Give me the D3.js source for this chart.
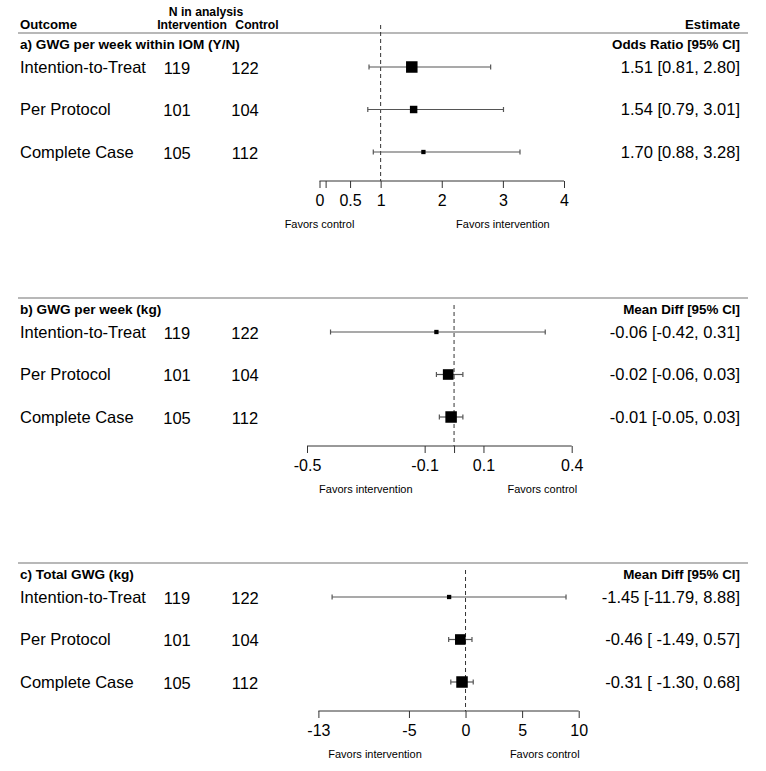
<!DOCTYPE html>
<html><head><meta charset="utf-8">
<script src="https://cdn.jsdelivr.net/npm/d3@7"></script>
<style>
body{margin:0;background:#fff;}
svg{font-family:"Liberation Sans",Arial,Helvetica,sans-serif;}
text{white-space:pre;}
</style></head>
<body><svg id="c" width="766" height="771"></svg>
<script>
// ---- data ----
const outcomes = ["Intention-to-Treat", "Per Protocol", "Complete Case"];
const nIntervention = [119, 101, 105];
const nControl = [122, 104, 112];

const titleA = "a) GWG per week within IOM (Y/N)";
const measureA = "Odds Ratio [95% CI]";
const estA = [1.51, 1.54, 1.70];
const lowA = [0.81, 0.79, 0.88];
const highA = [2.80, 3.01, 3.28];
const weightA = [1.0, 0.55, 0.2];
const ticksA = [0, 0.1, 0.5, 1, 2, 3, 4];
const tickLabelsA = ["0", "", "0.5", "1", "2", "3", "4"];
const refA = 1;
const favorsA = [{label: "Favors control", at: 0}, {label: "Favors intervention", at: 3}];

const titleB = "b) GWG per week (kg)";
const measureB = "Mean Diff [95% CI]";
const estB = [-0.06, -0.02, -0.01];
const lowB = [-0.42, -0.06, -0.05];
const highB = [0.31, 0.03, 0.03];
const weightB = [0.2, 0.9, 1.0];
const ticksB = [-0.5, -0.1, 0, 0.1, 0.4];
const tickLabelsB = ["-0.5", "-0.1", "", "0.1", "0.4"];
const refB = 0;
const favorsB = [{label: "Favors intervention", at: -0.3}, {label: "Favors control", at: 0.3}];

const titleC = "c) Total GWG (kg)";
const measureC = "Mean Diff [95% CI]";
const estC = [-1.45, -0.46, -0.31];
const lowC = [-11.79, -1.49, -1.30];
const highC = [8.88, 0.57, 0.68];
const weightC = [0.2, 0.9, 1.0];
const ticksC = [-13, -5, 0, 5, 10];
const tickLabelsC = ["-13", "-5", "0", "5", "10"];
const refC = 0;
const favorsC = [{label: "Favors intervention", at: -8}, {label: "Favors control", at: 7}];

// ---- layout ----
const svg = d3.select("#c");
const FONT = 16.5;
const HFONT = 12.2;

svg.append("text").attr("x", 206).attr("y", 16).attr("text-anchor", "middle")
  .attr("font-weight", "bold").attr("font-size", HFONT).text("N in analysis");
svg.append("text").attr("x", 20).attr("y", 29)
  .attr("font-weight", "bold").attr("font-size", 13.2).text("Outcome");
svg.append("text").attr("x", 192).attr("y", 29).attr("text-anchor", "middle")
  .attr("font-weight", "bold").attr("font-size", HFONT).text("Intervention");
svg.append("text").attr("x", 257).attr("y", 29).attr("text-anchor", "middle")
  .attr("font-weight", "bold").attr("font-size", HFONT).text("Control");
svg.append("text").attr("x", 740).attr("y", 29).attr("text-anchor", "end")
  .attr("font-weight", "bold").attr("font-size", 13.2).text("Estimate");

const panels = [
  {top: 33, title: titleA, measure: measureA, est: estA, low: lowA, high: highA, w: weightA,
   domain: [0, 4], range: [319.5, 564], ticks: ticksA, tickLabels: tickLabelsA, ref: refA, favors: favorsA, refTop: 25},
  {top: 298, title: titleB, measure: measureB, est: estB, low: lowB, high: highB, w: weightB,
   domain: [-0.5, 0.4], range: [307, 571.7], ticks: ticksB, tickLabels: tickLabelsB, ref: refB, favors: favorsB, refTop: 305},
  {top: 563, title: titleC, measure: measureC, est: estC, low: lowC, high: highC, w: weightC,
   domain: [-13, 10], range: [318.4, 578.7], ticks: ticksC, tickLabels: tickLabelsC, ref: refC, favors: favorsC, refTop: 570}
];

const fmt = d3.formatLocale({decimal: ".", thousands: ",", grouping: [3], currency: ["", ""], minus: "-"}).format(".2f");
const sizeScale = d3.scaleLinear().domain([0, 1]).range([2.5, 11.5]);

panels.forEach(p => {
  const g = svg.append("g");
  const x = d3.scaleLinear().domain(p.domain).range(p.range);
  const y = d3.scalePoint().domain(outcomes).range([p.top + 34, p.top + 119]);
  const axisY = p.top + 148;

  g.append("line").attr("x1", 18).attr("x2", 748).attr("y1", p.top).attr("y2", p.top)
    .attr("stroke", "#b8b8b8").attr("stroke-width", 2);
  g.append("text").attr("x", 20).attr("y", p.top + 16).attr("font-weight", "bold")
    .attr("font-size", 13.6).text(p.title);
  g.append("text").attr("x", 740).attr("y", p.top + 16).attr("font-weight", "bold")
    .attr("text-anchor", "end").attr("font-size", 13.4).text(p.measure);

  g.append("line").attr("x1", x(p.ref)).attr("x2", x(p.ref)).attr("y1", p.refTop).attr("y2", axisY)
    .attr("stroke", "#333").attr("stroke-dasharray", "4,3").attr("stroke-width", 1);

  const lowW = d3.max(p.low, v => fmt(v).length);
  outcomes.forEach((o, i) => {
    const yy = y(o);
    g.append("text").attr("x", 20).attr("y", yy).attr("dy", "0.35em").attr("font-size", FONT).text(o);
    g.append("text").attr("x", 177).attr("y", yy).attr("dy", "0.4em").attr("text-anchor", "middle")
      .attr("font-size", FONT).text(nIntervention[i]);
    g.append("text").attr("x", 245).attr("y", yy).attr("dy", "0.4em").attr("text-anchor", "middle")
      .attr("font-size", FONT).text(nControl[i]);
    const lowS = fmt(p.low[i]);
    const est = fmt(p.est[i]) + " [" + " ".repeat(Math.max(0, lowW - lowS.length)) + lowS + ", " + fmt(p.high[i]) + "]";
    g.append("text").attr("x", 740).attr("y", yy).attr("dy", "0.35em").attr("text-anchor", "end")
      .attr("font-size", FONT).text(est);

    g.append("line").attr("x1", x(p.low[i])).attr("x2", x(p.high[i])).attr("y1", yy).attr("y2", yy)
      .attr("stroke", "#555").attr("stroke-width", 1.2);
    [p.low[i], p.high[i]].forEach(v => {
      g.append("line").attr("x1", x(v)).attr("x2", x(v)).attr("y1", yy - 2.5).attr("y2", yy + 2.5)
        .attr("stroke", "#555").attr("stroke-width", 1.2);
    });
    const s = sizeScale(p.w[i]);
    g.append("rect").attr("x", x(p.est[i]) - s / 2).attr("y", yy - s / 2)
      .attr("width", s).attr("height", s).attr("fill", "#000");
  });

  const ax = d3.axisBottom(x).tickValues(p.ticks).tickSize(7).tickPadding(7)
    .tickFormat((d, i) => p.tickLabels[i]);
  const ag = g.append("g").attr("transform", `translate(0,${axisY})`).call(ax);
  ag.select(".domain").attr("stroke", "#333").attr("d", `M${p.range[0]},0H${p.range[1]}`);
  ag.selectAll(".tick line").attr("stroke", "#333");
  ag.selectAll(".tick text").attr("font-size", 16).attr("font-family", "Liberation Sans, Arial, sans-serif").attr("fill", "#000");

  p.favors.forEach(f => {
    g.append("text").attr("x", x(f.at)).attr("y", axisY + 47).attr("text-anchor", "middle")
      .attr("font-size", 11).text(f.label);
  });
});
</script>
</body></html>
